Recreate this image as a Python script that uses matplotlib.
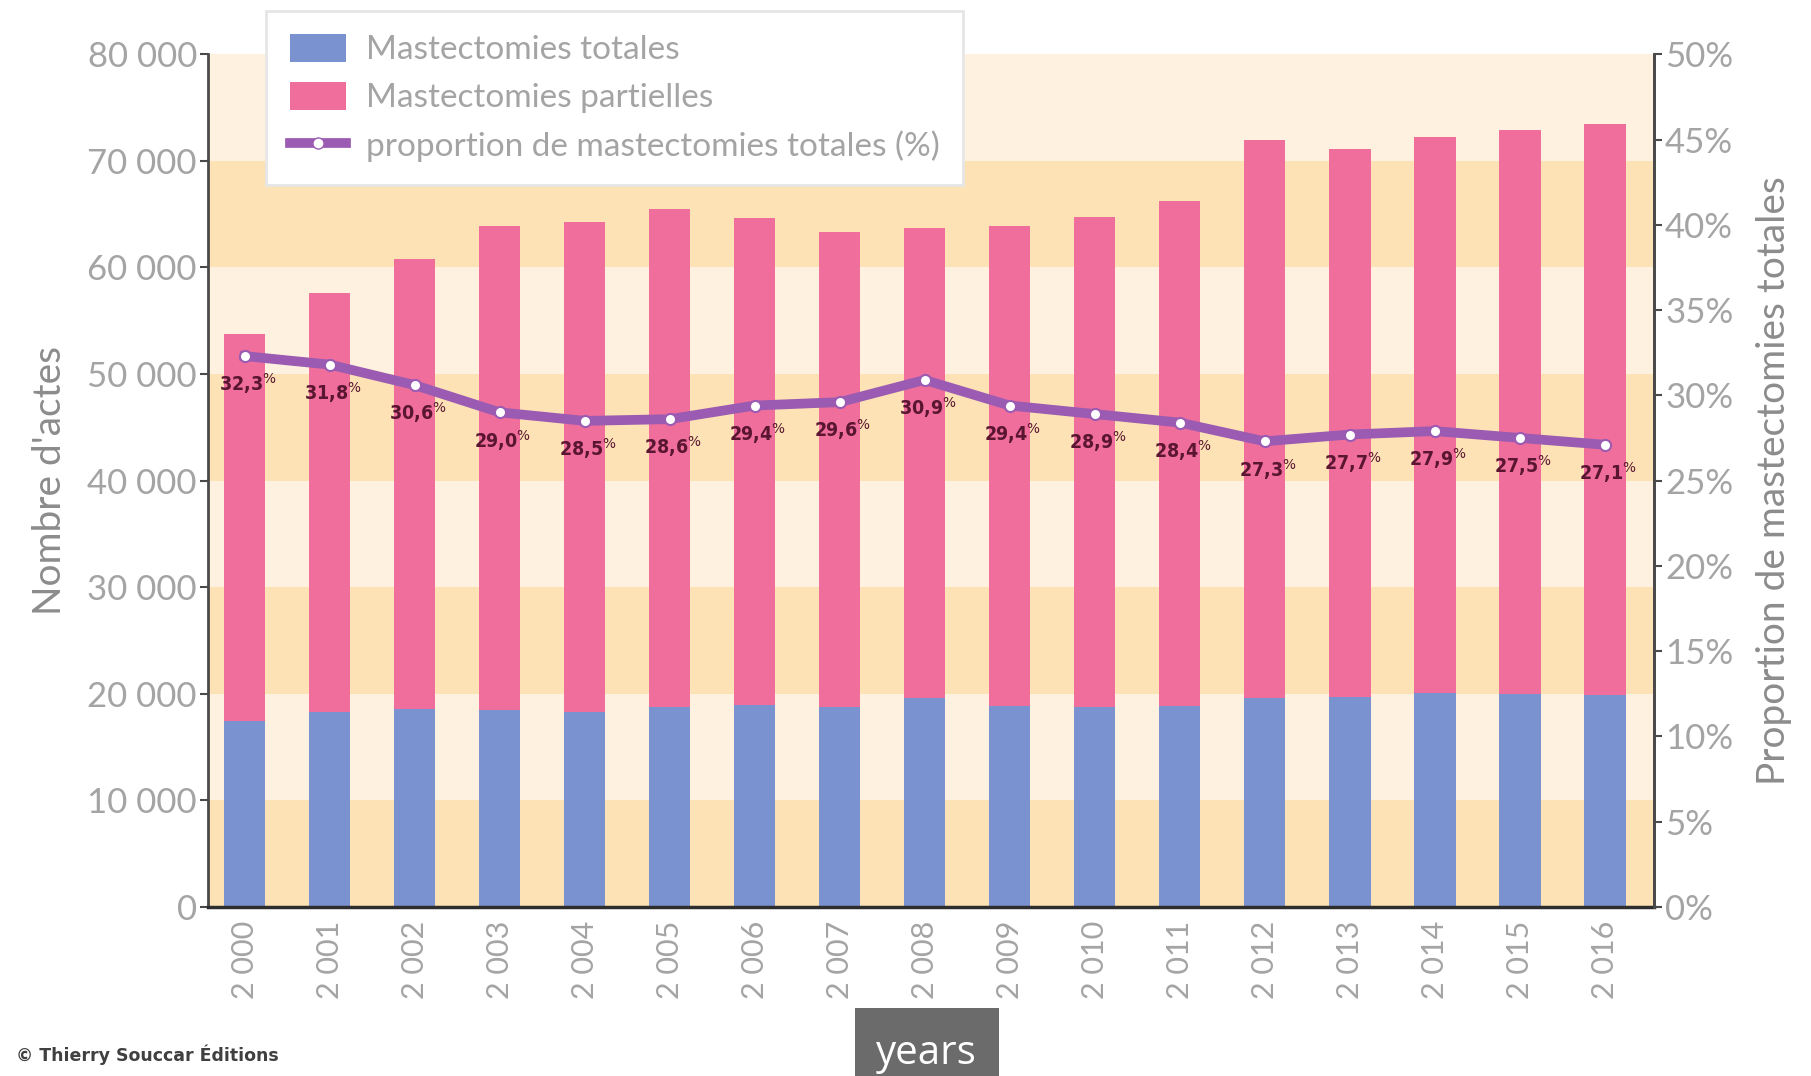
import matplotlib
matplotlib.use("Agg")
import matplotlib.pyplot as plt
import numpy as np
from matplotlib.patches import Patch, Rectangle
from matplotlib.lines import Line2D

# --- Data ---
annees = ["2 000", "2 001", "2 002", "2 003", "2 004", "2 005", "2 006", "2 007", "2 008",
          "2 009", "2 010", "2 011", "2 012", "2 013", "2 014", "2 015", "2 016"]
mastectomies_totales = [17400, 18300, 18600, 18500, 18300, 18700, 18900, 18700, 19600,
                        18800, 18700, 18800, 19600, 19700, 20100, 20000, 19900]
mastectomies_partielles = [36400, 39300, 42200, 45400, 46000, 46800, 45700, 44600, 44100,
                           45100, 46000, 47400, 52400, 51400, 52100, 52900, 53600]
proportion_totales = [32.3, 31.8, 30.6, 29.0, 28.5, 28.6, 29.4, 29.6, 30.9,
                      29.4, 28.9, 28.4, 27.3, 27.7, 27.9, 27.5, 27.1]
left_ticks = [0, 10000, 20000, 30000, 40000, 50000, 60000, 70000, 80000]
left_ticklabels = ["0", "10 000", "20 000", "30 000", "40 000", "50 000", "60 000", "70 000", "80 000"]
right_ticks = [0, 5, 10, 15, 20, 25, 30, 35, 40, 45, 50]

# --- Style ---
BLUE = "#7a92d0"
PINK = "#f06e9c"
PURPLE = "#9b5bb2"
BAND_DARK = "#fde2b6"
BAND_LIGHT = "#fef1df"
GREY = "#a4a4a4"
TITLE_GREY = "#8c8c8c"
AXIS = "#4a4a4a"
LABEL = "#5a1630"

plt.rcParams["font.family"] = ["Lato", "DejaVu Sans"]

fig = plt.figure(figsize=(18.11, 10.76), dpi=100)
ax = fig.add_axes([0.1149, 0.1573, 0.7984, 0.7922])

x = np.arange(len(annees))

# horizontal background bands
for i, lo in enumerate(left_ticks[:-1]):
    ax.axhspan(lo, lo + 10000, color=BAND_DARK if i % 2 == 0 else BAND_LIGHT, zorder=0, lw=0)

ax.bar(x, mastectomies_totales, width=0.49, color=BLUE, zorder=2, label="Mastectomies totales")
ax.bar(x, mastectomies_partielles, width=0.49, bottom=mastectomies_totales, color=PINK,
       zorder=2, label="Mastectomies partielles")

ax.set_xlim(-0.43, 16.58)
ax.set_ylim(0, 80000)
ax.set_yticks(left_ticks)
ax.set_yticklabels(left_ticklabels)
ax.set_xticks(x)
ax.set_xticklabels(annees, rotation=90)
ax.tick_params(axis="y", colors=AXIS, labelcolor=GREY, labelsize=25, length=6, width=1.5, pad=2)
ax.tick_params(axis="x", length=0, labelcolor=GREY, labelsize=22, pad=10)
ax.set_ylabel("Nombre d'actes", fontsize=28, color=TITLE_GREY, labelpad=14)

ax.spines["top"].set_visible(False)
ax.spines["left"].set_color(AXIS)
ax.spines["left"].set_linewidth(2)
ax.spines["bottom"].set_color("#2e2e2e")
ax.spines["bottom"].set_linewidth(2.5)
ax.spines["right"].set_color(AXIS)
ax.spines["right"].set_linewidth(2)

# proportion line on the right axis
ax2 = ax.twinx()
ax2.set_ylim(0, 50)
ax2.set_yticks(right_ticks)
ax2.set_yticklabels([f"{t}%" for t in right_ticks])
ax2.tick_params(axis="y", colors=AXIS, labelcolor=GREY, labelsize=25, length=6, width=1.5, pad=2)
for side in ["top", "left", "bottom"]:
    ax2.spines[side].set_visible(False)
ax2.spines["right"].set_color(AXIS)
ax2.spines["right"].set_linewidth(2)
ax2.set_ylabel("Proportion de mastectomies totales", fontsize=28, color=TITLE_GREY, labelpad=16)

ax2.plot(x, proportion_totales, color=PURPLE, lw=7, solid_joinstyle="round", zorder=3,
         marker="o", markersize=8, markerfacecolor="white", markeredgecolor=PURPLE,
         markeredgewidth=1.5)

for xi, p in zip(x, proportion_totales):
    num = f"{p:.1f}".replace(".", ",")
    ax2.annotate(num + r"$^{\%}$", (xi, p), xytext=(2, -11), textcoords="offset points",
                 ha="center", va="top", fontsize=14, color=LABEL, fontweight="bold",
                 fontstretch="condensed", family=["DejaVu Sans"], zorder=4)

# legend
handles = [
    Patch(facecolor=BLUE, edgecolor="none"),
    Patch(facecolor=PINK, edgecolor="none"),
    Line2D([0], [0], color=PURPLE, lw=7, marker="o", markersize=8,
           markerfacecolor="white", markeredgecolor=PURPLE),
]
labels = ["Mastectomies totales", "Mastectomies partielles",
          "proportion de mastectomies totales (%)"]
leg = fig.legend(handles, labels, loc="upper left", bbox_to_anchor=(0.147, 0.99),
                 fontsize=24, frameon=True, fancybox=False, shadow=False,
                 handlelength=1.7, handleheight=0.9, borderpad=0.7, labelspacing=0.5,
                 handletextpad=0.6, borderaxespad=0)
leg.get_frame().set_edgecolor("#e6e6e6")
leg.get_frame().set_linewidth(2)
leg.get_frame().set_facecolor("white")
leg.get_frame().set_alpha(1)
for t in leg.get_texts():
    t.set_color(GREY)
leg.set_zorder(10)

fig.text(0.009, 0.014, "\u00a9 Thierry Souccar \u00c9ditions", fontsize=12.5, color="#404040",
         fontweight="bold", family=["Liberation Sans Narrow", "DejaVu Sans"])

# caption tag at the bottom
fig.patches.append(Rectangle((0.4721, 0.0), 0.0795, 0.0632, transform=fig.transFigure,
                             facecolor="#6b6b6b", edgecolor="none", zorder=5))
fig.text(0.5114, 0.021, "years", fontsize=29, color="white", ha="center", va="center",
         family=["Open Sans", "DejaVu Sans"], zorder=6)

fig.savefig("out.png", dpi=100)
